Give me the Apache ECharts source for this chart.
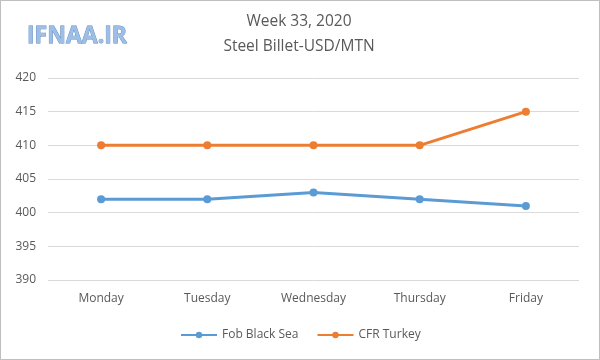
<!DOCTYPE html>
<html><head><meta charset="utf-8">
<script src="https://cdn.jsdelivr.net/npm/echarts@6/dist/echarts.min.js"></script>
<style>html,body{margin:0;padding:0;background:#fff}#c{width:600px;height:360px;box-sizing:border-box;border:1px solid #bfbfbf}</style>
</head><body><div id="c"></div>
<script>
const categories = ['Monday','Tuesday','Wednesday','Thursday','Friday'];
const fobBlackSea = [402, 402, 403, 402, 401];
const cfrTurkey = [410, 410, 410, 410, 415];
const seriesNames = ['Fob Black Sea','CFR Turkey'];
const chart = echarts.init(document.getElementById('c'));
const font = '"Open Sans", "Noto Sans", sans-serif';
chart.setOption({
  animation:false,
  textStyle:{fontFamily:font},
  title:[{text:'Week 33, 2020\nSteel Billet-USD/MTN',left:293,top:3,textAlign:'center',
    textStyle:{fontSize:15.5,fontWeight:'normal',color:'#595959',lineHeight:25,fontFamily:font}},
    {text:'IFNAA.IR',left:21,top:19,textStyle:{fontSize:23,fontWeight:'bold',color:'#9dbfe6',
     textBorderColor:'#5b86bd',textBorderWidth:0.8,fontFamily:font}}],
  legend:{data:seriesNames,bottom:13,left:174,itemWidth:36,itemHeight:8,itemGap:18,
    textStyle:{color:'#595959',fontSize:12}},
  grid:{left:47,right:20,top:77,bottom:79},
  xAxis:{type:'category',data:categories,boundaryGap:true,
    axisLine:{show:false},axisTick:{show:false},
    axisLabel:{color:'#595959',fontSize:12,margin:13}},
  yAxis:{type:'value',min:390,max:420,interval:5,
    axisLine:{show:false},axisTick:{show:false},
    splitLine:{lineStyle:{color:'#d9d9d9'}},
    axisLabel:{color:'#595959',fontSize:12,margin:12}},
  series:[
    {name:seriesNames[0],type:'line',data:fobBlackSea,symbol:'circle',symbolSize:8,
     lineStyle:{width:3,color:'#5b9bd5'},itemStyle:{color:'#5b9bd5'}},
    {name:seriesNames[1],type:'line',data:cfrTurkey,symbol:'circle',symbolSize:8,
     lineStyle:{width:3,color:'#ed7d31'},itemStyle:{color:'#ed7d31'}}
  ]
});
</script></body></html>
